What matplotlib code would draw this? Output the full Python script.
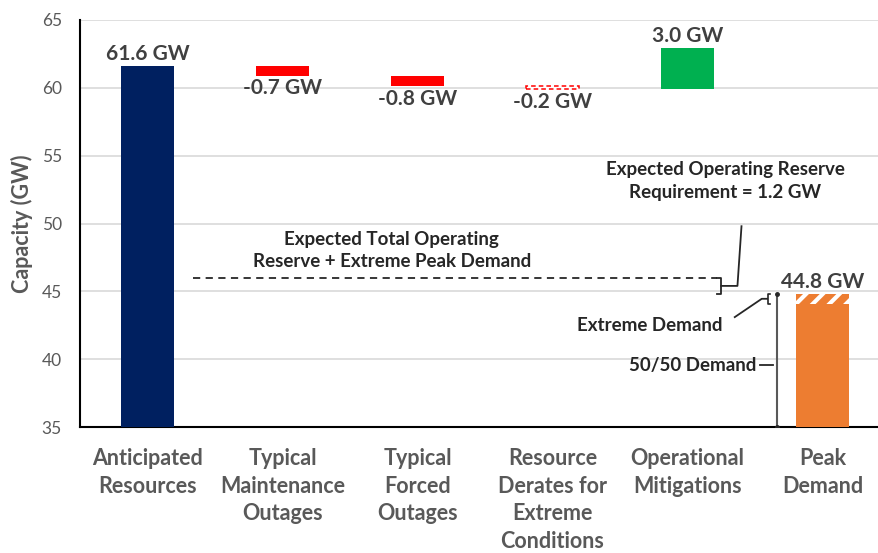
import numpy as np
import matplotlib.pyplot as plt

plt.rcParams['font.family'] = ['Lato', 'DejaVu Sans']
plt.rcParams['hatch.linewidth'] = 3.0

# waterfall data (GW)
categories = ["Anticipated\nResources", "Typical\nMaintenance\nOutages", "Typical\nForced\nOutages",
              "Resource\nDerates for\nExtreme\nConditions", "Operational\nMitigations", "Peak\nDemand"]
changes = [61.6, -0.7, -0.8, -0.2, 3.0]
bar_labels = ["61.6 GW", "-0.7 GW", "-0.8 GW", "-0.2 GW", "3.0 GW"]
peak_demand = 44.8
demand_5050 = 44.1
reserve_req = 1.2
yticks = [35, 40, 45, 50, 55, 60, 65]

navy = "#002060"
red = "#ff0000"
green = "#00b050"
orange = "#ed7d31"
txt = "#404040"
dark = "#262626"
gray = "#595959"

fig = plt.figure(figsize=(8.79, 5.53), dpi=100, facecolor="white")
ax = fig.add_axes([80/879, 126/553, 810/879, 407/553])
ax.set_xlim(-0.5, 5.5)
ax.set_ylim(35, 65)

w = 0.39
x = np.arange(len(categories))
lab_fs = 15

# waterfall bars
level = 0.0
for i, c in enumerate(changes):
    if i == 0:
        ax.bar(x[i], c - 35, w, bottom=35, color=navy, zorder=3)
        ax.text(x[i], c + 0.15, bar_labels[i], ha="center", va="bottom",
                fontsize=lab_fs, fontweight="bold", color=txt)
        level = c
        continue
    lo, hi = min(level, level + c), max(level, level + c)
    if c > 0:
        ax.bar(x[i], hi - lo, w, bottom=lo, color=green, zorder=3)
        ax.text(x[i], hi + 0.15, bar_labels[i], ha="center", va="bottom",
                fontsize=lab_fs, fontweight="bold", color=txt)
    elif i == 3:
        ax.bar(x[i], hi - lo, w, bottom=lo, facecolor="white", edgecolor=red,
               linestyle=(0, (3, 2)), linewidth=1.1, zorder=3)
        ax.text(x[i], lo - 0.2, bar_labels[i], ha="center", va="top",
                fontsize=lab_fs, fontweight="bold", color=txt)
    else:
        ax.bar(x[i], hi - lo, w, bottom=lo, color=red, zorder=3)
        ax.text(x[i], lo - 0.2, bar_labels[i], ha="center", va="top",
                fontsize=lab_fs, fontweight="bold", color=txt)
    level += c

# peak demand: 50/50 part solid, extreme part hatched
ax.bar(x[5], demand_5050 - 35, w, bottom=35, color=orange, zorder=3)
ax.bar(x[5], peak_demand - demand_5050, w, bottom=demand_5050, facecolor=orange,
       edgecolor="white", hatch="//", linewidth=0, zorder=3)
ax.text(x[5], peak_demand + 0.15, f"{peak_demand} GW", ha="center", va="bottom",
        fontsize=lab_fs, fontweight="bold", color=txt)

# reserve requirement line and bracket
ann_fs = 13.5
total = peak_demand + reserve_req
ax.plot([0.34, 4.22], [total, total], color=dark, lw=1.3, ls=(0, (4, 3)), zorder=4)
ax.plot([4.22, 4.25, 4.25, 4.22], [total, total, peak_demand, peak_demand], color=dark, lw=1.3, zorder=4)
mid = (total + peak_demand) / 2
ax.plot([4.25, 4.37, 4.40], [mid, mid, 49.8], color=dark, lw=1.3, zorder=4)
ax.text(1.81, 48.0, "Expected Total Operating\nReserve + Extreme Peak Demand", ha="center", va="center",
        fontsize=ann_fs, fontweight="bold", color=dark, linespacing=1.4)
ax.text(4.28, 53.15, "Expected Operating Reserve\nRequirement = " + f"{reserve_req} GW", ha="center",
        va="center", fontsize=ann_fs, fontweight="bold", color=dark, linespacing=1.4)

# demand measurement line
vx = 4.663
ax.plot([vx, vx], [35, peak_demand], color=gray, lw=1.5, zorder=4)
ax.plot([vx, vx], [35, peak_demand], ls="none", marker="o", ms=2.5, color=dark, zorder=4)
ax.plot([vx - 0.05, vx - 0.07, vx - 0.07, vx - 0.05], [peak_demand, peak_demand, demand_5050, demand_5050],
        color=dark, lw=1.2, zorder=4)
ax.plot([4.35, 4.55, 4.59], [43.1, 44.45, 44.45], color=dark, lw=1.3, zorder=4)
ax.text(3.72, 42.45, "Extreme Demand", ha="center", va="center", fontsize=ann_fs,
        fontweight="bold", color=dark)
m5050 = (35 + demand_5050) / 2
ax.plot([4.54, 4.63], [m5050, m5050], color=dark, lw=1.3, zorder=4)
ax.text(4.51, m5050, "50/50 Demand", ha="right", va="center", fontsize=ann_fs,
        fontweight="bold", color=dark)

# axes styling
ax.set_yticks(yticks)
ax.set_yticklabels([str(t) for t in yticks], fontsize=12.5, color=gray)
ax.set_xticks(x)
ax.set_xticklabels(categories, fontsize=15.5, fontweight="bold", color=gray, linespacing=1.4,
                   va="top")
ax.tick_params(axis="y", length=0, pad=13)
ax.tick_params(axis="x", length=0, pad=15)
ax.grid(axis="y", color="#d9d9d9", lw=1.2, zorder=0)
ax.set_axisbelow(True)
for s in ["top", "right"]:
    ax.spines[s].set_visible(False)
ax.spines["left"].set_color("black")
ax.spines["left"].set_linewidth(1.5)
ax.spines["bottom"].set_color("black")
ax.spines["bottom"].set_linewidth(1.5)
ax.set_ylabel("Capacity (GW)", fontsize=15.5, fontweight="bold", color=gray, labelpad=6)

fig.savefig("out.png", dpi=100, facecolor="white")
